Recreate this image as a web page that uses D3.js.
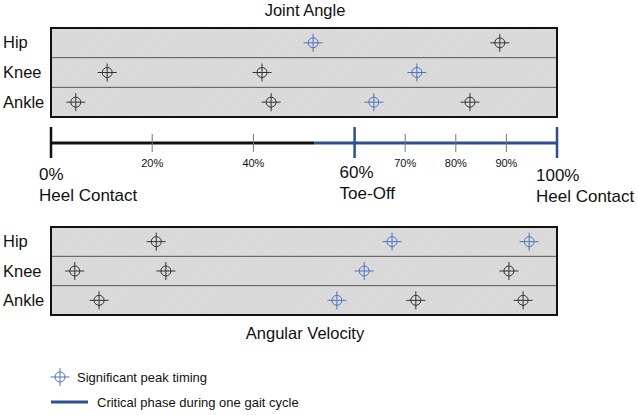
<!DOCTYPE html>
<html><head><meta charset="utf-8">
<script src="https://cdn.jsdelivr.net/npm/d3@7/dist/d3.min.js"></script>
<style>body{margin:0;background:#fff}svg{display:block;font-family:"Liberation Sans",Arial,sans-serif}</style>
</head><body>
<svg id="c" width="638" height="415"></svg>
<script>
const joints = ["Hip","Knee","Ankle"];
// peak timing (% gait cycle), significant flag
const angleHip = [{p:51.8,s:true},{p:88.7,s:false}];
const angleKnee = [{p:11.1,s:false},{p:41.7,s:false},{p:72.3,s:true}];
const angleAnkle = [{p:4.9,s:false},{p:43.5,s:false},{p:63.8,s:true},{p:82.8,s:false}];
const velHip = [{p:20.8,s:false},{p:67.4,s:true},{p:94.5,s:true}];
const velKnee = [{p:4.7,s:false},{p:22.7,s:false},{p:61.9,s:true},{p:90.5,s:false}];
const velAnkle = [{p:9.5,s:false},{p:56.5,s:true},{p:72.1,s:false},{p:93.3,s:false}];
const minorTicks = [20,40,70,80,90];
const majorTicks = [{v:0,l:"0%",t:"Heel Contact"},{v:60,l:"60%",t:"Toe-Off"},{v:100,l:"100%",t:"Heel Contact"}];
const criticalStart = 52;

const svg = d3.select("#c");
const x = d3.scaleLinear().domain([0,100]).range([51,557]);
const BLUE = "#4f74bd", DARK = "#2d4f8e", BLK = "#333";

const defs = svg.append("defs");
const pat = defs.append("pattern").attr("id","hatch").attr("patternUnits","userSpaceOnUse")
  .attr("width",3).attr("height",3).attr("patternTransform","rotate(45)");
pat.append("rect").attr("width",3).attr("height",3).attr("fill","#dcdcdc");
pat.append("line").attr("x1",0).attr("y1",0).attr("x2",0).attr("y2",3).attr("stroke","#cfcfcf").attr("stroke-width",1);

function marker(g, cx, cy, color){
  g.append("line").attr("x1",cx-9.5).attr("x2",cx+9.5).attr("y1",cy).attr("y2",cy).attr("stroke",color).attr("stroke-width",1);
  g.append("line").attr("x1",cx).attr("x2",cx).attr("y1",cy-9).attr("y2",cy+9).attr("stroke",color).attr("stroke-width",1);
  g.append("circle").attr("cx",cx).attr("cy",cy).attr("r",5).attr("fill","none").attr("stroke",color).attr("stroke-width",1);
}

function panel(y0, y1, data, title, titleY){
  const y = d3.scaleBand().domain(joints).range([y0,y1]);
  const g = svg.append("g");
  g.append("rect").attr("x",x(0)).attr("y",y0).attr("width",x(100)-x(0)).attr("height",y1-y0).attr("fill","url(#hatch)");
  joints.slice(1).forEach(j=>{
    g.append("line").attr("x1",x(0)).attr("x2",x(100)).attr("y1",y(j)).attr("y2",y(j)).attr("stroke","#555").attr("stroke-width",1);
  });
  g.append("rect").attr("x",x(0)).attr("y",y0).attr("width",x(100)-x(0)).attr("height",y1-y0).attr("fill","none").attr("stroke","#111").attr("stroke-width",2);
  joints.forEach((j,i)=>{
    const cy = y(j)+y.bandwidth()/2;
    g.append("text").attr("x",3).attr("y",cy+5.5).attr("font-size",16.5).attr("fill","#111").text(j);
    data[i].forEach(d=>marker(g, x(d.p), cy, d.s?BLUE:BLK));
  });
  svg.append("text").attr("x",305).attr("y",titleY).attr("text-anchor","middle").attr("font-size",16.5).attr("fill","#111").text(title);
}

panel(28,117,[angleHip,angleKnee,angleAnkle],"Joint Angle",16);
panel(227,315,[velHip,velKnee,velAnkle],"Angular Velocity",339);

// timeline
const ty = 143;
const tl = svg.append("g");
tl.append("line").attr("x1",x(0)).attr("x2",x(criticalStart)).attr("y1",ty).attr("y2",ty).attr("stroke","#111").attr("stroke-width",3);
tl.append("line").attr("x1",x(criticalStart)).attr("x2",x(100)).attr("y1",ty).attr("y2",ty).attr("stroke",DARK).attr("stroke-width",3);
minorTicks.forEach(v=>{
  tl.append("line").attr("x1",x(v)).attr("x2",x(v)).attr("y1",134).attr("y2",152).attr("stroke","#777").attr("stroke-width",1);
  tl.append("text").attr("x",x(v)).attr("y",167).attr("text-anchor","middle").attr("font-size",11).attr("fill","#111").text(v+"%");
});
majorTicks.forEach(d=>{
  tl.append("line").attr("x1",x(d.v)).attr("x2",x(d.v)).attr("y1",127).attr("y2",158).attr("stroke",d.v>=criticalStart?DARK:"#111").attr("stroke-width",2.5);
  const lx = d.v===0 ? 39 : (d.v===60 ? x(d.v)-15 : x(d.v)-21);
  const ly = d.v===0 ? 180 : (d.v===60?178:181);
  tl.append("text").attr("x",lx).attr("y",ly).attr("font-size",17).attr("fill","#111").text(d.l);
  tl.append("text").attr("x",lx).attr("y",ly+21).attr("font-size",17).attr("fill","#111").text(d.t);
});

// legend
const lg = svg.append("g");
marker(lg, 60, 377, BLUE);
lg.append("text").attr("x",77).attr("y",381.5).attr("font-size",13).attr("fill","#111").text("Significant peak timing");
lg.append("line").attr("x1",51).attr("x2",88).attr("y1",402).attr("y2",402).attr("stroke",DARK).attr("stroke-width",3);
lg.append("text").attr("x",97).attr("y",406.5).attr("font-size",13).attr("fill","#111").text("Critical phase during one gait cycle");
</script>
</body></html>
